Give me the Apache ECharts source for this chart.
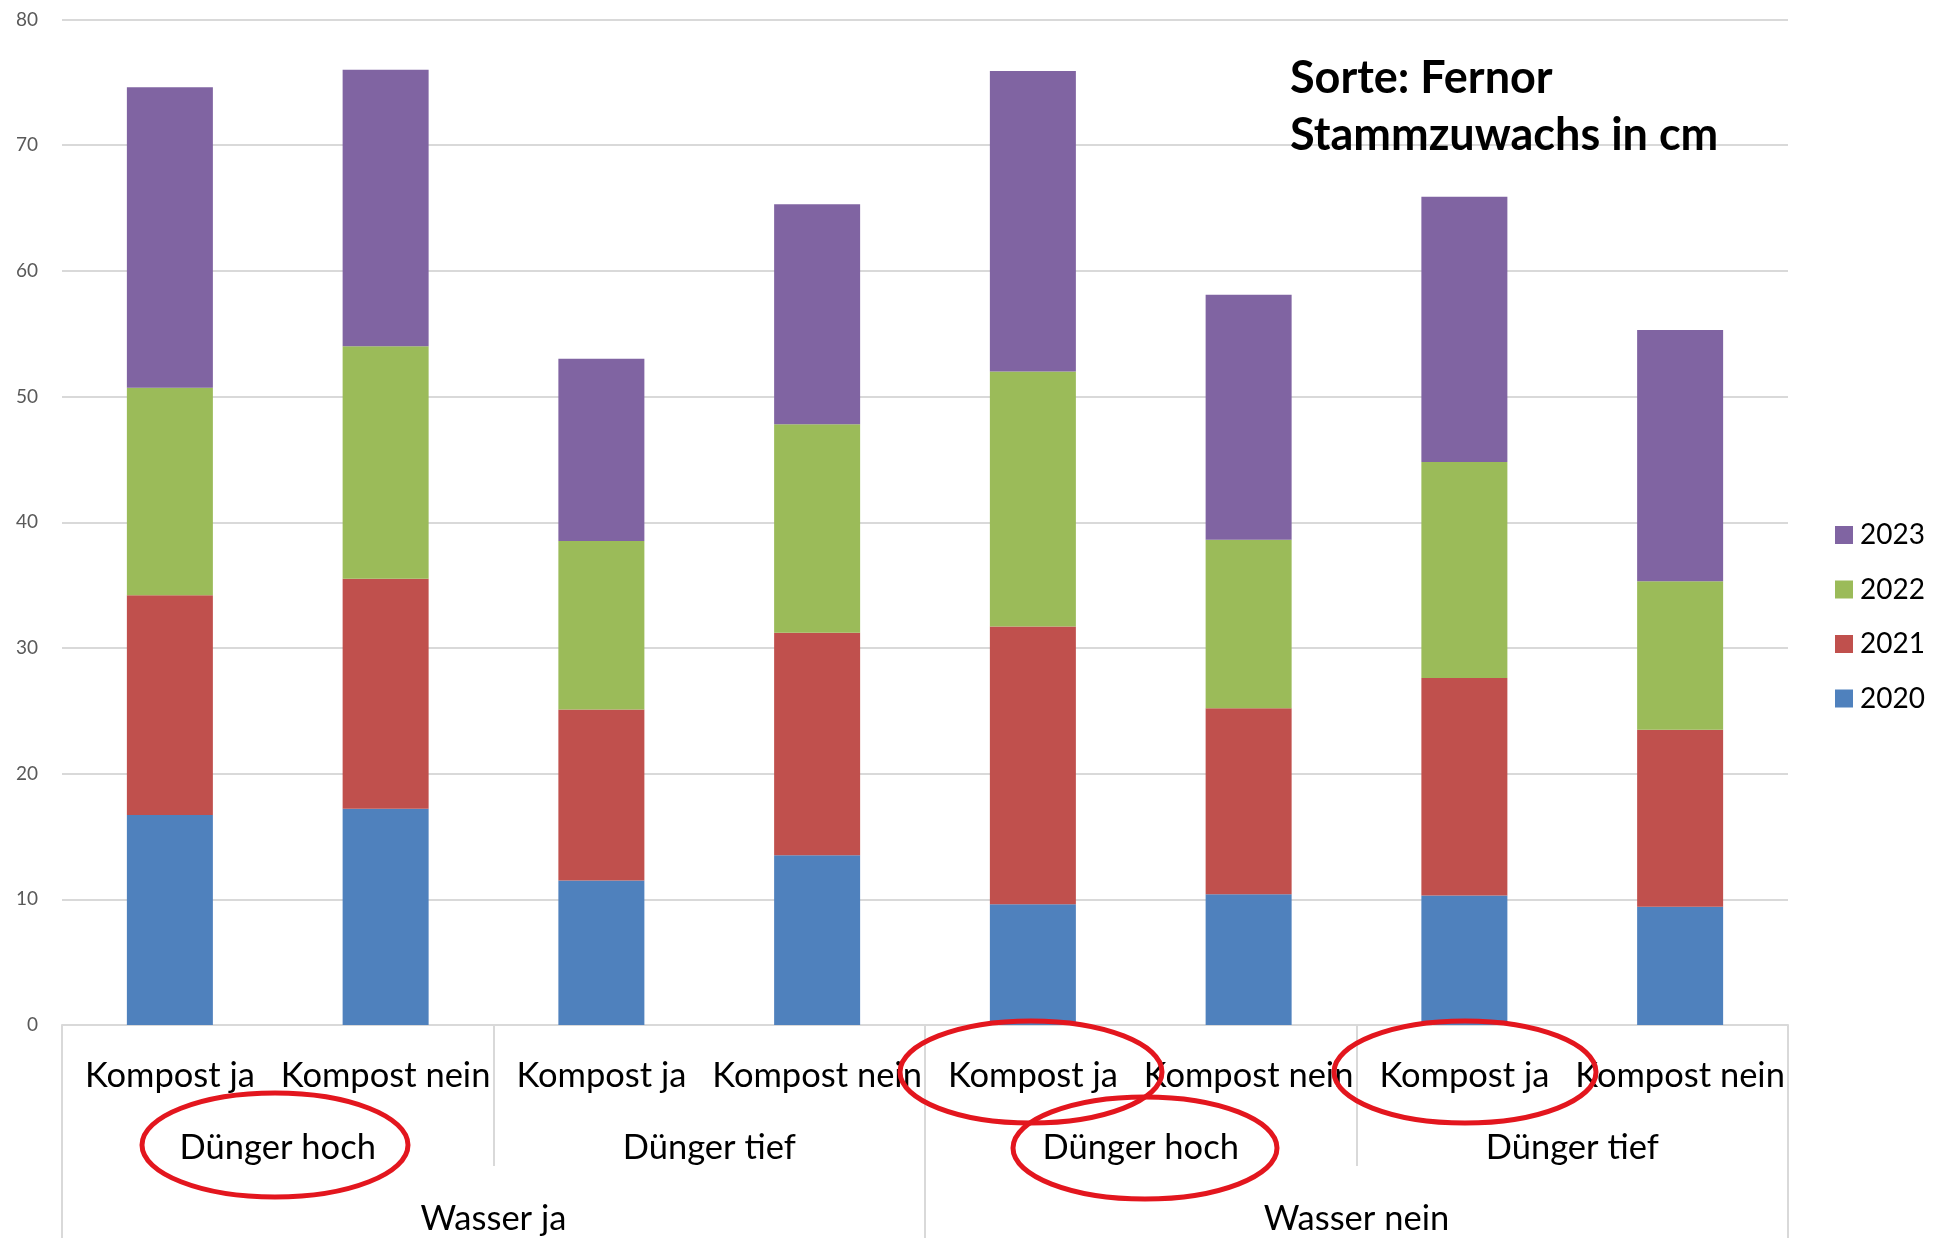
<!DOCTYPE html>
<html>
<head>
<meta charset="utf-8">
<script src="https://cdn.jsdelivr.net/npm/echarts@6/dist/echarts.min.js"></script>
<style>html,body{margin:0;padding:0;background:#fff;}#c{width:1941px;height:1245px;}</style>
</head>
<body>
<div id="c"></div>
<script>
const kompost = ['Kompost ja','Kompost nein','Kompost ja','Kompost nein','Kompost ja','Kompost nein','Kompost ja','Kompost nein'];
const duenger = ['Dünger hoch','Dünger tief','Dünger hoch','Dünger tief'];
const wasser = ['Wasser ja','Wasser nein'];
const y2020 = [16.7, 17.2, 11.5, 13.5, 9.6, 10.4, 10.3, 9.4];
const y2021 = [17.5, 18.3, 13.6, 17.7, 22.1, 14.8, 17.3, 14.1];
const y2022 = [16.5, 18.5, 13.4, 16.6, 20.3, 13.4, 17.2, 11.8];
const y2023 = [23.9, 22.0, 14.5, 17.5, 23.9, 19.5, 21.1, 20.0];
const yTicks = [0, 10, 20, 30, 40, 50, 60, 70, 80];

const FONT = 'Lato';
const chart = echarts.init(document.getElementById('c'));
const mk = (name, data, color) => ({
  name, type: 'bar', stack: 'total', data, barWidth: 86,
  itemStyle: { color }, emphasis: { disabled: true }
});
const ell = (cx, cy, rx, ry) => ({
  type: 'ellipse', shape: { cx, cy, rx, ry }, z: 100,
  style: { fill: 'none', stroke: '#e3161e', lineWidth: 5 }
});
chart.setOption({
  animation: false,
  textStyle: { fontFamily: FONT },
  title: {
    text: 'Sorte: Fernor\nStammzuwachs in cm',
    left: 1285, top: 45,
    textStyle: { fontFamily: FONT, fontWeight: 'bold', fontSize: 45, lineHeight: 57, color: '#000' }
  },
  legend: {
    orient: 'vertical', left: 1830, top: 516,
    data: ['2023', '2022', '2021', '2020'],
    itemWidth: 18, itemHeight: 18, itemGap: 26.5, icon: 'rect',
    textStyle: { fontFamily: FONT, fontSize: 28, color: '#000', padding: [0, 0, 0, 2] }
  },
  grid: { left: 62, right: 153, top: 19.5, bottom: 220, containLabel: false },
  yAxis: {
    type: 'value', min: yTicks[0], max: yTicks[yTicks.length - 1], interval: 10,
    axisLine: { show: false }, axisTick: { show: false },
    axisLabel: { fontFamily: FONT, fontSize: 19, color: '#595959', margin: 24 },
    splitLine: { lineStyle: { color: '#d9d9d9', width: 2 } }
  },
  xAxis: [
    {
      type: 'category', data: kompost, position: 'bottom',
      axisLine: { lineStyle: { color: '#d9d9d9', width: 2 } },
      axisTick: { show: false },
      axisLabel: { fontFamily: FONT, fontSize: 34.5, color: '#000', margin: 33, interval: 0 }
    },
    {
      type: 'category', data: duenger, position: 'bottom',
      axisLine: { show: false },
      axisTick: { show: true, length: 141, lineStyle: { color: '#d9d9d9', width: 2 } },
      axisLabel: { fontFamily: FONT, fontSize: 34.5, color: '#000', margin: 105, interval: 0 }
    },
    {
      type: 'category', data: wasser, position: 'bottom',
      axisLine: { show: false },
      axisTick: { show: true, length: 213, lineStyle: { color: '#d9d9d9', width: 2 } },
      axisLabel: { fontFamily: FONT, fontSize: 34.5, color: '#000', margin: 176, interval: 0 }
    }
  ],
  series: [
    mk('2020', y2020, '#4f81bd'),
    mk('2021', y2021, '#c0504d'),
    mk('2022', y2022, '#9bbb59'),
    mk('2023', y2023, '#8064a2')
  ],
  graphic: [
    ell(275, 1145, 133, 52),
    ell(1031, 1072, 131, 51),
    ell(1145, 1148, 132, 51),
    ell(1465, 1072, 131, 51)
  ]
});
</script>
</body>
</html>
